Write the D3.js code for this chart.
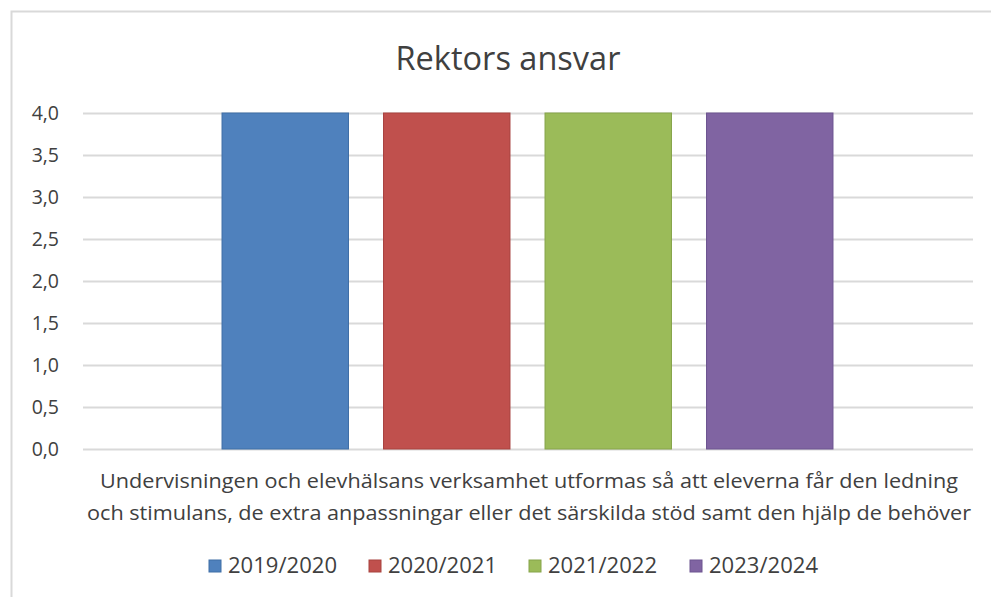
<!DOCTYPE html>
<html>
<head>
<meta charset="utf-8">
<script src="https://cdn.jsdelivr.net/npm/d3@7"></script>
<style>
  body { margin: 0; background: #fff; }
  text { font-family: "Open Sans", "Noto Sans", sans-serif; fill: #404040; }
</style>
</head>
<body>
<div id="chart"></div>
<script>
var title = "Rektors ansvar";
var categoryLines = [
    "Undervisningen och elevhälsans verksamhet utformas så att eleverna får den ledning",
    "och stimulans, de extra anpassningar eller det särskilda stöd samt den hjälp de behöver"
];
var seriesNames = ["2019/2020", "2020/2021", "2021/2022", "2023/2024"];
var seriesValues = [4.0, 4.0, 4.0, 4.0];
var seriesColors = ["#4f81bd", "#c0504d", "#9bbb59", "#8064a2"];
var seriesStroke = ["#3f6ea6", "#a8423f", "#86a44a", "#6c5490"];
var yTicks = [0, 0.5, 1, 1.5, 2, 2.5, 3, 3.5, 4];

var width = 991, height = 597;
var plot = { left: 83, right: 973, top: 113, bottom: 449 };

var svg = d3.select("#chart").append("svg")
    .attr("width", width)
    .attr("height", height);

// chart frame
svg.append("rect")
    .attr("x", 11.5).attr("y", 11.5)
    .attr("width", 1000).attr("height", 700)
    .attr("fill", "#fff")
    .attr("stroke", "#d9d9d9")
    .attr("stroke-width", 2);

var y = d3.scaleLinear().domain([0, 4]).range([plot.bottom, plot.top]);

// one category, four series side by side
var x = d3.scaleBand()
    .domain(seriesNames)
    .range([204.5, 850.5])
    .paddingInner(0.217)
    .paddingOuter(0.1085);

// gridlines
svg.append("g").selectAll("line")
    .data(yTicks)
    .enter().append("line")
    .attr("x1", plot.left).attr("x2", plot.right)
    .attr("y1", function (d) { return Math.round(y(d)) + 0.5; })
    .attr("y2", function (d) { return Math.round(y(d)) + 0.5; })
    .attr("stroke", "#d9d9d9")
    .attr("stroke-width", 2);

// y tick labels
var yAxis = d3.axisLeft(y)
    .tickValues(yTicks)
    .tickSize(0)
    .tickPadding(0)
    .tickFormat(function (d) { return d3.format(".1f")(d).replace(".", ","); });
var ga = svg.append("g")
    .attr("transform", "translate(59,0)")
    .call(yAxis);
ga.select(".domain").remove();
ga.selectAll("text")
    .attr("font-size", 19.5)
    .attr("font-family", null)
    .attr("fill", "#404040");

// bars
svg.append("g").selectAll("rect")
    .data(seriesNames)
    .enter().append("rect")
    .attr("x", function (d) { return x(d); })
    .attr("y", function (d, i) { return y(seriesValues[i]); })
    .attr("width", x.bandwidth())
    .attr("height", function (d, i) { return y(0) - y(seriesValues[i]); })
    .attr("fill", function (d, i) { return seriesColors[i]; })
    .attr("stroke", function (d, i) { return seriesStroke[i]; })
    .attr("stroke-width", 1);

// title
svg.append("text")
    .attr("x", 508).attr("y", 70)
    .attr("text-anchor", "middle")
    .attr("font-size", 33)
    .attr("textLength", 225)
    .attr("lengthAdjust", "spacingAndGlyphs")
    .text(title);

// category label
svg.append("g").selectAll("text")
    .data(categoryLines)
    .enter().append("text")
    .attr("x", 529)
    .attr("y", function (d, i) { return 488 + i * 32; })
    .attr("text-anchor", "middle")
    .attr("font-size", 20)
    .attr("textLength", function (d, i) { return i == 0 ? 858 : 884; })
    .attr("lengthAdjust", "spacingAndGlyphs")
    .text(function (d) { return d; });

// legend
var legendX = [209, 369, 529, 690];
var legend = svg.append("g").selectAll("g")
    .data(seriesNames)
    .enter().append("g")
    .attr("transform", function (d, i) { return "translate(" + legendX[i] + ",560)"; });
legend.append("rect")
    .attr("width", 12).attr("height", 12)
    .attr("fill", function (d, i) { return seriesColors[i]; })
    .attr("stroke", function (d, i) { return seriesStroke[i]; });
legend.append("text")
    .attr("x", 19).attr("y", 13)
    .attr("font-size", 21)
    .attr("textLength", 109)
    .attr("lengthAdjust", "spacingAndGlyphs")
    .text(function (d) { return d; });
</script>
</body>
</html>
